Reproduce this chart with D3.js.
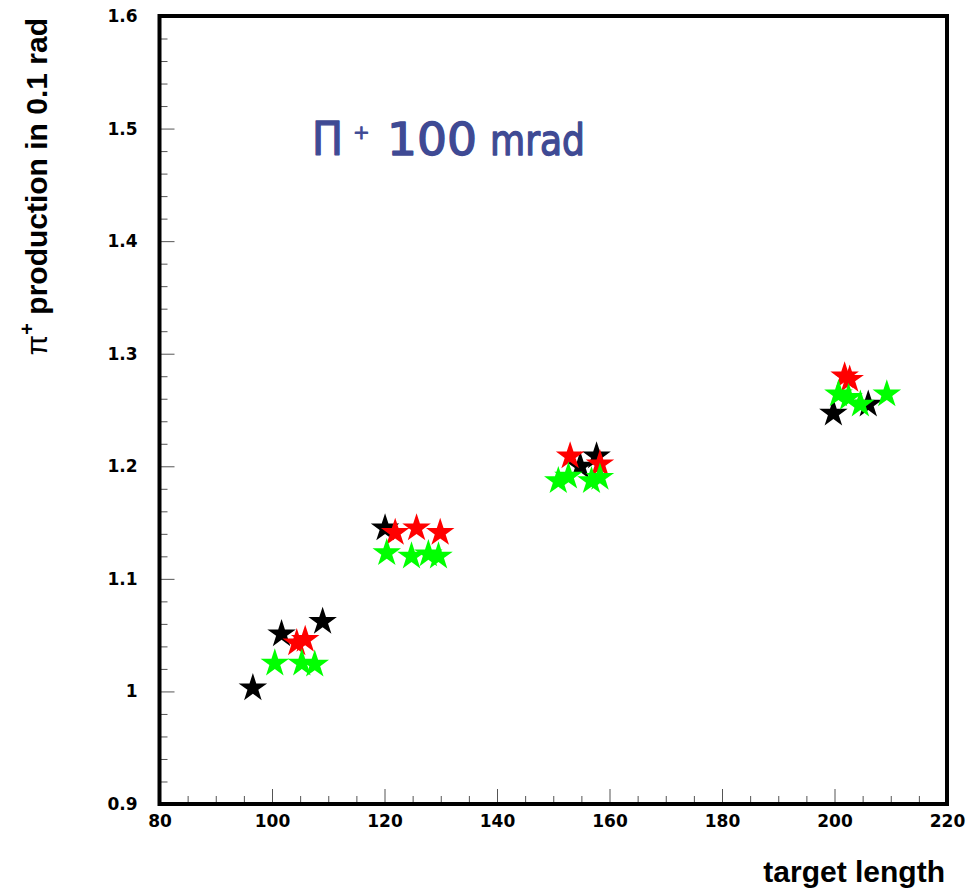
<!DOCTYPE html>
<html>
<head>
<meta charset="utf-8">
<script src="https://cdn.jsdelivr.net/npm/d3@7"></script>
<style>
  html, body { margin: 0; padding: 0; background: #fff; }
  svg { display: block; }
</style>
</head>
<body>
<svg id="chart" width="977" height="890"></svg>
<script>
// ---- data ----
const blackX = [96.6, 101.7, 109.0, 120.1, 154.8, 157.7, 199.8, 206.0];
const blackY = [1.003, 1.051, 1.062, 1.145, 1.200, 1.209, 1.247, 1.255];

const redX = [104.4, 105.9, 121.9, 125.7, 129.9, 153.0, 158.3, 201.8, 202.7];
const redY = [1.043, 1.046, 1.141, 1.145, 1.141, 1.209, 1.202, 1.280, 1.277];

const greenX = [100.5, 105.3, 107.6, 120.4, 124.8, 127.8, 129.6, 150.9, 152.7, 156.8, 158.3, 200.7, 202.5, 204.6, 209.3];
const greenY = [1.025, 1.025, 1.024, 1.123, 1.120, 1.122, 1.120, 1.187, 1.191, 1.187, 1.190, 1.264, 1.261, 1.255, 1.264];

const xMajorTicks = [80, 100, 120, 140, 160, 180, 200, 220];
const yMajorTicks = [0.9, 1.0, 1.1, 1.2, 1.3, 1.4, 1.5, 1.6];
const yTickLabels = ["0.9", "1", "1.1", "1.2", "1.3", "1.4", "1.5", "1.6"];
const xTitle = "target length";
const annotation = { pi: "\u03A0", plus: "+", num: "100", unit: "mrad" };

// ---- layout ----
const svg = d3.select("#chart");
const L = 159.5, R = 947, T = 16, B = 804;
const x = d3.scaleLinear().domain([80, 220]).range([L, R]);
const y = d3.scaleLinear().domain([0.9, 1.6]).range([B, T]);

const xMinor = d3.range(80, 220.001, 5).filter(v => !xMajorTicks.includes(v));
const yMinor = d3.range(0, 36).map(i => +(0.9 + i * 0.02).toFixed(2)).filter(v => !yMajorTicks.some(m => Math.abs(m - v) < 1e-9));

const tickColor = "#555";

const gxMinor = svg.append("g").attr("transform", `translate(0,${B})`)
  .call(d3.axisBottom(x).tickValues(xMinor).tickSize(-8).tickFormat(""));
const gx = svg.append("g").attr("transform", `translate(0,${B})`)
  .call(d3.axisBottom(x).tickValues(xMajorTicks).tickSize(-15).tickPadding(11).tickFormat(d3.format("d")));
const gyMinor = svg.append("g").attr("transform", `translate(${L},0)`)
  .call(d3.axisLeft(y).tickValues(yMinor).tickSize(-8).tickFormat(""));
const gy = svg.append("g").attr("transform", `translate(${L},0)`)
  .call(d3.axisLeft(y).tickValues(yMajorTicks).tickSize(-15).tickPadding(22)
        .tickFormat((d, i) => yTickLabels[i]));

[gxMinor, gx, gyMinor, gy].forEach(g => {
  g.select(".domain").remove();
  g.selectAll(".tick line").attr("stroke", tickColor).attr("stroke-width", 1);
  g.selectAll(".tick text")
    .attr("fill", "#000")
    .style("font-family", "'DejaVu Sans', sans-serif")
    .style("font-weight", "bold")
    .style("font-size", "17px");
});
gx.selectAll(".tick line").filter(d => d === 80 || d === 220).remove();
gy.selectAll(".tick line").filter(d => d === 0.9 || d === 1.6).remove();

// ---- markers ----
const star = d3.symbol().type(d3.symbolStar).size(252);
function drawSeries(xs, ys, color) {
  const pts = xs.map((v, i) => ({ x: v, y: ys[i] }));
  svg.append("g").selectAll("path").data(pts).join("path")
    .attr("d", star)
    .attr("transform", d => `translate(${x(d.x)},${y(d.y)})`)
    .attr("fill", color);
}
drawSeries(blackX, blackY, "#000000");
drawSeries(redX, redY, "#ff0000");
drawSeries(greenX, greenY, "#00ff00");

// ---- frame ----
svg.append("rect")
  .attr("x", L).attr("y", T)
  .attr("width", R - L).attr("height", B - T)
  .attr("fill", "none").attr("stroke", "#000").attr("stroke-width", 4);

// ---- axis titles ----
svg.append("text")
  .attr("x", 945).attr("y", 882)
  .attr("text-anchor", "end")
  .style("font-family", "'Liberation Sans', Arial, sans-serif")
  .style("font-weight", "bold")
  .style("font-size", "30px")
  .text(xTitle);

const yt = svg.append("text")
  .attr("transform", "translate(47,18) rotate(-90)")
  .attr("text-anchor", "end")
  .style("font-family", "'Liberation Sans', Arial, sans-serif")
  .style("font-weight", "bold")
  .style("font-size", "30px");
yt.append("tspan").style("font-weight", "normal").text("\u03C0");
yt.append("tspan").attr("dy", -13).style("font-size", "20px").text("+");
yt.append("tspan").attr("dy", 13).text(" production in 0.1 rad");

// ---- annotation ----
const annColor = "#3f4a94";
const annFont = "'DejaVu Sans', sans-serif";
function ann(txt, xPos, yPos, size, len) {
  const t = svg.append("text").attr("x", xPos).attr("y", yPos)
    .attr("fill", annColor).attr("stroke", annColor).attr("stroke-width", 1.4)
    .attr("stroke-linejoin", "round")
    .style("font-family", annFont).style("font-size", size + "px")
    .text(txt);
  if (len) t.attr("textLength", len).attr("lengthAdjust", "spacingAndGlyphs");
  return t;
}
ann(annotation.pi, 312, 155, 46, 31);
ann(annotation.plus, 353, 139, 20, null).attr("stroke-width", 0.8);
ann(annotation.num, 387, 155, 45, 90);
ann(annotation.unit, 490, 155, 42, 95);
</script>
</body>
</html>
